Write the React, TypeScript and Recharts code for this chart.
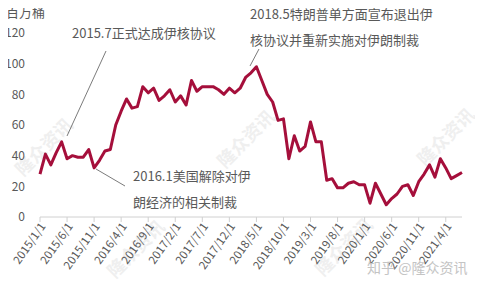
import React from "react";
import { LineChart, Line, XAxis, YAxis } from "recharts";

// 月份：2015/1 ~ 2021/7
const months = [
  "2015/1/1", "2015/2/1", "2015/3/1", "2015/4/1", "2015/5/1", "2015/6/1", "2015/7/1", "2015/8/1", "2015/9/1", "2015/10/1", "2015/11/1", "2015/12/1",
  "2016/1/1", "2016/2/1", "2016/3/1", "2016/4/1", "2016/5/1", "2016/6/1", "2016/7/1", "2016/8/1", "2016/9/1", "2016/10/1", "2016/11/1", "2016/12/1",
  "2017/1/1", "2017/2/1", "2017/3/1", "2017/4/1", "2017/5/1", "2017/6/1", "2017/7/1", "2017/8/1", "2017/9/1", "2017/10/1", "2017/11/1", "2017/12/1",
  "2018/1/1", "2018/2/1", "2018/3/1", "2018/4/1", "2018/5/1", "2018/6/1", "2018/7/1", "2018/8/1", "2018/9/1", "2018/10/1", "2018/11/1", "2018/12/1",
  "2019/1/1", "2019/2/1", "2019/3/1", "2019/4/1", "2019/5/1", "2019/6/1", "2019/7/1", "2019/8/1", "2019/9/1", "2019/10/1", "2019/11/1", "2019/12/1",
  "2020/1/1", "2020/2/1", "2020/3/1", "2020/4/1", "2020/5/1", "2020/6/1", "2020/7/1", "2020/8/1", "2020/9/1", "2020/10/1", "2020/11/1", "2020/12/1",
  "2021/1/1", "2021/2/1", "2021/3/1", "2021/4/1", "2021/5/1", "2021/6/1", "2021/7/1",
];

// 伊朗原油出口量（百万桶）
const exports = [
  28, 41, 34, 42, 49, 38, 40, 39, 39, 44, 32, 37,
  43, 44, 60, 69, 77, 71, 72, 85, 81, 84, 76, 79,
  83, 75, 79, 73, 89, 82, 85, 85, 85, 83, 80, 84,
  81, 84, 91, 94, 98, 89, 80, 75, 63, 64, 38, 53,
  43, 46, 62, 49, 49, 24, 25, 19, 19, 22, 23, 21,
  21, 9, 22, 15, 8, 12, 15, 20, 21, 14, 23, 28,
  34, 26, 38, 32, 25, 27, 29,
];

const yTicks = [0, 20, 40, 60, 80, 100, 120];

const data = months.map((m, i) => ({ month: m, value: exports[i] }));

const FONT = "'Noto Sans CJK SC', 'Noto Sans', sans-serif";
const TEXT = "#595959";

const AngledTick = (props: any) => {
  const { x, y, payload } = props;
  return (
    <g transform={`translate(${x + 3},${y})`}>
      <text x={0} y={0} dy={4} textAnchor="end" fill={TEXT} fontSize={11.5} fontFamily={FONT} transform="rotate(-55)">
        {payload.value}
      </text>
    </g>
  );
};

// 水印位置（装饰）
const marks = [
  { x: 45, y: 148 },
  { x: 247, y: 140 },
  { x: 447, y: 138 },
  { x: 137, y: 250 },
  { x: 345, y: 248 },
];

export default function App() {
  return (
    <div style={{ position: "relative", width: 483, height: 289, margin: -8, background: "#fff", fontFamily: FONT }}>
      <svg width={483} height={289} style={{ position: "absolute", left: 0, top: 0 }}>
        {marks.map((m, i) => (
          <text key={i} x={m.x} y={m.y} textAnchor="middle" dominantBaseline="middle" fontSize={18} fontWeight={700}
            fill="#efefef" fontFamily={FONT} transform={`rotate(-45 ${m.x} ${m.y})`}>
            隆众资讯
          </text>
        ))}
      </svg>
      <div style={{ position: "absolute", left: 0, top: 0 }}>
        <LineChart width={483} height={289} data={data} margin={{ top: 33, right: 21, left: 0, bottom: 0 }}>
          <XAxis
            dataKey="month"
            interval={4}
            height={72}
            tick={<AngledTick />}
            tickSize={5}
            axisLine={{ stroke: "#d0d0d0" }}
            tickLine={{ stroke: "#d0d0d0" }}
          />
          <YAxis
            domain={[0, 120]}
            ticks={yTicks}
            width={40}
            axisLine={false}
            tickLine={false}
            tickMargin={9}
            tick={{ fill: TEXT, fontSize: 12, fontFamily: FONT }}
          />
          <Line
            type="linear"
            dataKey="value"
            stroke="#A50F3B"
            strokeWidth={3}
            dot={false}
            strokeLinejoin="round"
            isAnimationActive={false}
          />
        </LineChart>
      </div>
      <svg width={483} height={289} style={{ position: "absolute", left: 0, top: 0, pointerEvents: "none" }}>
        <text x={6} y={17} fontSize={13} fill={TEXT} fontFamily={FONT}>百万桶</text>

        <text x={72} y={38} fontSize={13} fill={TEXT} fontFamily={FONT}>2015.7正式达成伊核协议</text>
        <line x1={106} y1={51} x2={67} y2={136} stroke="#595959" strokeWidth={0.8} />

        <text x={250} y={19} fontSize={13} fill={TEXT} fontFamily={FONT}>2018.5特朗普单方面宣布退出伊</text>
        <text x={250} y={45} fontSize={13} fill={TEXT} fontFamily={FONT}>核协议并重新实施对伊朗制裁</text>
        <line x1={259} y1={49} x2={250} y2={66} stroke="#595959" strokeWidth={0.8} />

        <text x={133} y={181} fontSize={13} fill={TEXT} fontFamily={FONT}>2016.1美国解除对伊</text>
        <text x={133} y={207} fontSize={13} fill={TEXT} fontFamily={FONT}>朗经济的相关制裁</text>
        <line x1={96} y1={169} x2={125} y2={186} stroke="#595959" strokeWidth={0.8} />

        <text x={367} y={273} fontSize={14} fill="#c4c4c4" fontFamily={FONT}>知乎 @隆众资讯</text>
      </svg>
    </div>
  );
}
